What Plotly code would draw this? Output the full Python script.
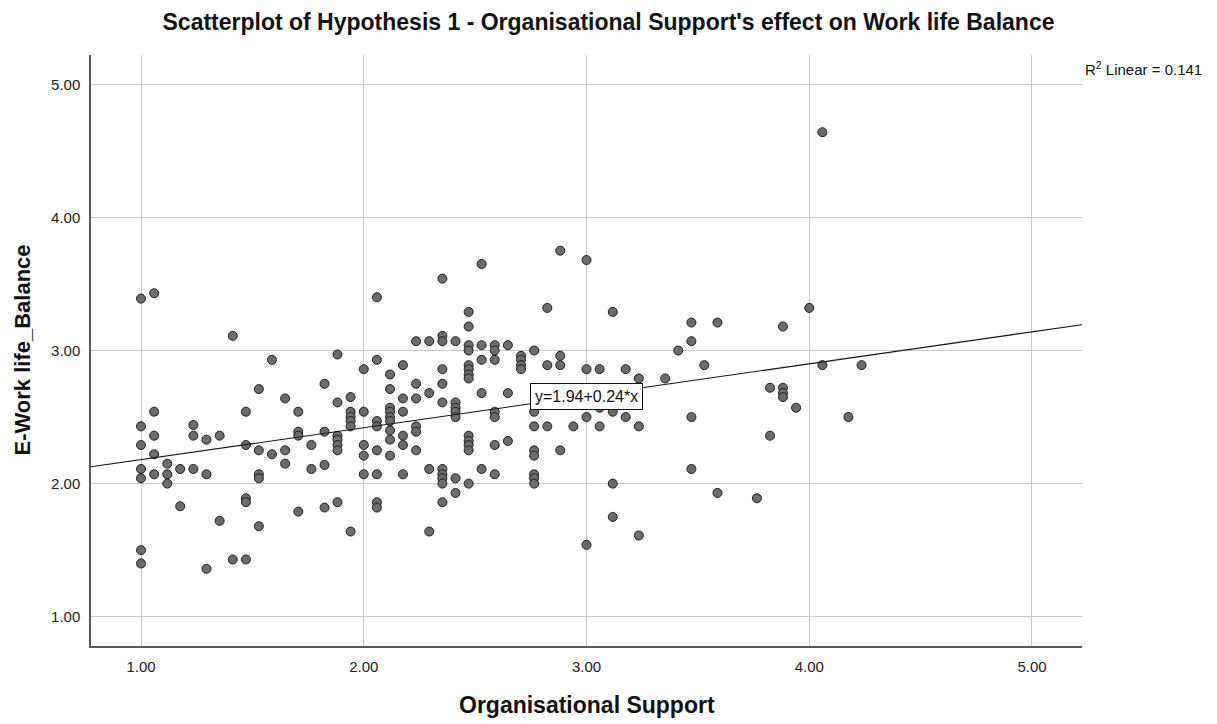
import plotly.graph_objects as go

# ---------------- data ----------------
org_support = [
    1.000, 1.000, 1.000, 1.000, 1.000, 1.000, 1.000,
    1.059, 1.059, 1.059, 1.059, 1.059,
    1.118, 1.118, 1.118,
    1.176, 1.176,
    1.235, 1.235, 1.235,
    1.294, 1.294, 1.294,
    1.353, 1.353,
    1.412, 1.412,
    1.471, 1.471, 1.471, 1.471, 1.471,
    1.529, 1.529, 1.529, 1.529, 1.529,
    1.588, 1.588,
    1.647, 1.647, 1.647,
    1.706, 1.706, 1.706, 1.706,
    1.765, 1.765,
    1.824, 1.824, 1.824, 1.824,
    1.882, 1.882, 1.882, 1.882, 1.882, 1.882, 1.882,
    1.941, 1.941, 1.941, 1.941, 1.941, 1.941,
    2.000, 2.000, 2.000, 2.000, 2.000,
    2.059, 2.059, 2.059, 2.059, 2.059, 2.059, 2.059, 2.059,
    2.118, 2.118, 2.118, 2.118, 2.118, 2.118, 2.118, 2.118, 2.118,
    2.176, 2.176, 2.176, 2.176, 2.176, 2.176,
    2.235, 2.235, 2.235, 2.235, 2.235, 2.235,
    2.294, 2.294, 2.294, 2.294,
    2.353, 2.353, 2.353, 2.353, 2.353, 2.353, 2.353, 2.353, 2.353, 2.353, 2.353,
    2.412, 2.412, 2.412, 2.412, 2.412, 2.412, 2.412,
    2.471, 2.471, 2.471, 2.471, 2.471, 2.471, 2.471, 2.471, 2.471, 2.471, 2.471, 2.471, 2.471,
    2.529, 2.529, 2.529, 2.529, 2.529,
    2.588, 2.588, 2.588, 2.588, 2.588, 2.588, 2.588,
    2.647, 2.647, 2.647,
    2.706, 2.706, 2.706, 2.706,
    2.765, 2.765, 2.765, 2.765, 2.765, 2.765, 2.765, 2.765,
    2.824, 2.824, 2.824,
    2.882, 2.882, 2.882, 2.882,
    2.941,
    3.000, 3.000, 3.000, 3.000,
    3.059, 3.059, 3.059,
    3.118, 3.118, 3.118, 3.118,
    3.176, 3.176,
    3.235, 3.235, 3.235,
    3.353,
    3.412,
    3.471, 3.471, 3.471, 3.471,
    3.529,
    3.588, 3.588,
    3.765,
    3.824, 3.824,
    3.882, 3.882, 3.882, 3.882,
    3.941,
    4.000,
    4.059, 4.059,
    4.176,
    4.235,
]

work_life_balance = [
    3.39, 2.43, 2.29, 2.11, 2.04, 1.50, 1.40,
    3.43, 2.54, 2.36, 2.22, 2.07,
    2.15, 2.07, 2.00,
    2.11, 1.83,
    2.44, 2.36, 2.11,
    2.33, 2.07, 1.36,
    2.36, 1.72,
    3.11, 1.43,
    2.54, 2.29, 1.89, 1.86, 1.43,
    2.71, 2.25, 2.07, 2.04, 1.68,
    2.93, 2.22,
    2.64, 2.25, 2.15,
    2.54, 2.39, 2.36, 1.79,
    2.29, 2.11,
    2.75, 2.39, 2.14, 1.82,
    2.97, 2.61, 2.36, 2.33, 2.29, 2.25, 1.86,
    2.65, 2.54, 2.50, 2.47, 2.43, 1.64,
    2.86, 2.54, 2.29, 2.21, 2.07,
    3.40, 2.93, 2.47, 2.43, 2.25, 2.07, 1.86, 1.82,
    2.82, 2.71, 2.57, 2.54, 2.50, 2.47, 2.40, 2.33, 2.21,
    2.89, 2.64, 2.54, 2.36, 2.29, 2.07,
    3.07, 2.75, 2.64, 2.43, 2.39, 2.25,
    3.07, 2.68, 2.11, 1.64,
    3.54, 3.11, 3.07, 2.86, 2.75, 2.61, 2.11, 2.07, 2.04, 2.00, 1.86,
    3.07, 2.61, 2.57, 2.54, 2.50, 2.04, 1.93,
    3.29, 3.18, 3.04, 3.00, 2.89, 2.86, 2.82, 2.79, 2.36, 2.32, 2.29, 2.25, 2.00,
    3.65, 3.04, 2.93, 2.68, 2.11,
    3.04, 3.00, 2.93, 2.54, 2.50, 2.29, 2.07,
    3.04, 2.68, 2.32,
    2.96, 2.93, 2.89, 2.86,
    3.00, 2.54, 2.43, 2.25, 2.21, 2.07, 2.04, 2.00,
    3.32, 2.89, 2.43,
    3.75, 2.96, 2.89, 2.25,
    2.43,
    3.68, 2.86, 2.50, 1.54,
    2.86, 2.57, 2.43,
    3.29, 2.54, 2.00, 1.75,
    2.86, 2.50,
    2.79, 2.43, 1.61,
    2.79,
    3.00,
    3.21, 3.07, 2.50, 2.11,
    2.89,
    3.21, 1.93,
    1.89,
    2.72, 2.36,
    3.18, 2.72, 2.68, 2.65,
    2.57,
    3.32,
    4.64, 2.89,
    2.50,
    2.89,
]

fit_intercept = 1.94
fit_slope = 0.24
r_squared = 0.141

tick_values = [1, 2, 3, 4, 5]
tick_labels = ["1.00", "2.00", "3.00", "4.00", "5.00"]

x_range = [0.7755, 5.2245]
y_range = [0.78, 5.22]

FONT = "Liberation Sans"

# ---------------- figure ----------------
fig = go.Figure()

fig.add_trace(go.Scatter(
    x=org_support,
    y=work_life_balance,
    mode="markers",
    marker=dict(size=9, color="rgb(108,108,108)",
                line=dict(color="rgb(30,30,30)", width=1)),
    hoverinfo="x+y",
    showlegend=False,
))

line_x = [x_range[0], x_range[1]]
line_y = [fit_intercept + fit_slope * v for v in line_x]
fig.add_trace(go.Scatter(
    x=line_x, y=line_y, mode="lines",
    line=dict(color="rgb(20,20,20)", width=1.1),
    hoverinfo="skip", showlegend=False,
))

fig.add_annotation(
    x=3.0, y=2.657, xref="x", yref="y",
    text=f"y={fit_intercept:.2f}+{fit_slope:.2f}*x",
    showarrow=False,
    font=dict(family=FONT, size=16, color="#111111"),
    bgcolor="white", bordercolor="#111111", borderwidth=1, borderpad=4,
)

fig.add_annotation(
    x=1.0, y=1.0, xref="paper", yref="paper",
    xanchor="left", yanchor="middle",
    xshift=1, yshift=-13,
    text=f"R<sup>2</sup> Linear = {r_squared:.3f}",
    showarrow=False,
    font=dict(family=FONT, size=15, color="#111111"),
)

# axis titles
fig.add_annotation(
    x=0.5, y=-0.1, xref="paper", yref="paper",
    xanchor="center", yanchor="middle",
    text="<b>Organisational Support</b>", showarrow=False,
    font=dict(family=FONT, size=23, color="#111111"),
)
fig.add_annotation(
    x=-0.0696, y=0.5, xref="paper", yref="paper",
    xanchor="center", yanchor="middle", textangle=-90,
    text="<b>E-Work life_Balance</b>", showarrow=False,
    font=dict(family=FONT, size=22, color="#111111"),
)

axis_common = dict(
    tickmode="array", tickvals=tick_values, ticktext=tick_labels,
    showgrid=True, gridcolor="rgb(200,200,200)", gridwidth=1.3,
    zeroline=False, showline=True, linecolor="rgb(90,90,90)", linewidth=1.5,
    ticks="", tickfont=dict(family=FONT, size=15, color="#222222"),
    fixedrange=True,
)

fig.update_xaxes(range=x_range, ticklabelstandoff=6, **axis_common)
fig.update_yaxes(range=y_range, ticklabelstandoff=6, **axis_common)

fig.update_layout(
    width=1217, height=724,
    margin=dict(l=91, r=135, t=55, b=78),
    plot_bgcolor="white", paper_bgcolor="white",
    font=dict(family=FONT, color="#111111"),
    title=dict(
        text="<b>Scatterplot of Hypothesis 1 - Organisational Support's effect on Work life Balance</b>",
        x=0.5, xref="container", xanchor="center",
        y=1 - 22 / 724, yref="container", yanchor="middle",
        font=dict(family=FONT, size=23, color="#111111"),
    ),
    showlegend=False,
)

fig.write_html("out.html", config={"displayModeBar": False},
               post_script="document.body.style.margin='0';")
